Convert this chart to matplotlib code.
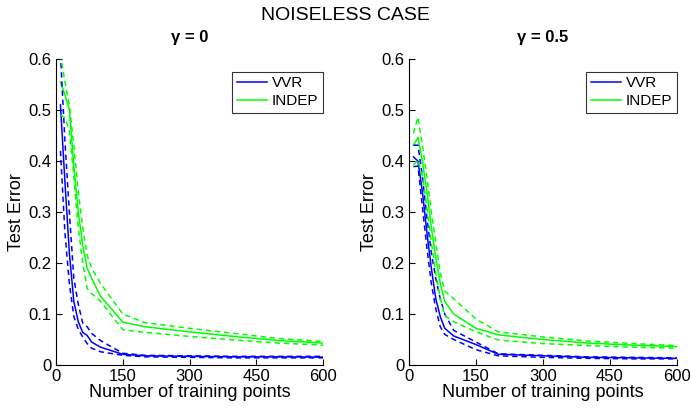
import matplotlib
matplotlib.use("Agg")
import matplotlib.pyplot as plt

plt.rcParams['font.family'] = ['Liberation Sans', 'DejaVu Sans']

x_points = [10, 20, 30, 40, 50, 60, 70, 80, 100, 150, 200, 300, 400, 500, 600]

# gamma = 0
vvr0_mean = [0.51, 0.36, 0.22, 0.125, 0.085, 0.064, 0.058, 0.045, 0.035, 0.021, 0.018, 0.017, 0.016, 0.016, 0.0155]
vvr0_up = [0.61, 0.44, 0.30, 0.17, 0.12, 0.082, 0.075, 0.062, 0.048, 0.023, 0.019, 0.018, 0.017, 0.017, 0.017]
vvr0_lo = [0.42, 0.26, 0.16, 0.095, 0.07, 0.055, 0.042, 0.033, 0.026, 0.019, 0.016, 0.015, 0.014, 0.014, 0.014]
ind0_mean = [0.555, 0.53, 0.50, 0.39, 0.30, 0.235, 0.19, 0.17, 0.135, 0.084, 0.075, 0.065, 0.056, 0.048, 0.043]
ind0_up = [0.61, 0.555, 0.51, 0.43, 0.34, 0.27, 0.215, 0.19, 0.16, 0.10, 0.083, 0.072, 0.062, 0.052, 0.046]
ind0_lo = [0.49, 0.485, 0.46, 0.37, 0.27, 0.20, 0.15, 0.14, 0.125, 0.069, 0.064, 0.056, 0.049, 0.043, 0.039]

# gamma = 0.5
vvr5_mean = [0.408, 0.40, 0.34, 0.26, 0.19, 0.13, 0.095, 0.072, 0.057, 0.04, 0.021, 0.018, 0.015, 0.014, 0.013]
vvr5_up = [0.431, 0.431, 0.37, 0.29, 0.22, 0.17, 0.13, 0.10, 0.068, 0.045, 0.022, 0.019, 0.016, 0.015, 0.014]
vvr5_lo = [0.389, 0.39, 0.31, 0.23, 0.16, 0.11, 0.075, 0.06, 0.05, 0.03, 0.018, 0.015, 0.013, 0.012, 0.012]
ind5_mean = [0.431, 0.446, 0.40, 0.34, 0.27, 0.21, 0.16, 0.125, 0.10, 0.072, 0.059, 0.05, 0.043, 0.039, 0.036]
ind5_up = [0.454, 0.486, 0.43, 0.37, 0.30, 0.24, 0.18, 0.145, 0.13, 0.09, 0.065, 0.055, 0.047, 0.042, 0.038]
ind5_lo = [0.392, 0.402, 0.37, 0.31, 0.24, 0.18, 0.13, 0.097, 0.085, 0.065, 0.049, 0.042, 0.038, 0.035, 0.033]

x_ticks = [0, 150, 300, 450, 600]
y_ticks = [0, 0.1, 0.2, 0.3, 0.4, 0.5, 0.6]
y_tick_labels = ['0', '0.1', '0.2', '0.3', '0.4', '0.5', '0.6']

BLUE = '#0000ff'
GREEN = '#00ff00'

fig = plt.figure(figsize=(6.91, 4.11), dpi=100)
ax1 = fig.add_axes([56 / 691, 46 / 411, 267 / 691, 306 / 411])
ax2 = fig.add_axes([409 / 691, 46 / 411, 268 / 691, 306 / 411])

panels = [
    (ax1, 'γ = 0', vvr0_mean, vvr0_up, vvr0_lo, ind0_mean, ind0_up, ind0_lo),
    (ax2, 'γ = 0.5', vvr5_mean, vvr5_up, vvr5_lo, ind5_mean, ind5_up, ind5_lo),
]

LW = 1.1
DASH = (0, (3.5, 2.5))

for ax, title, vm, vu, vl, im, iu, il in panels:
    ax.plot(x_points, vm, color=BLUE, lw=LW, label='VVR')
    ax.plot(x_points, im, color=GREEN, lw=LW, label='INDEP')
    ax.plot(x_points, vu, color=BLUE, lw=LW, ls=DASH)
    ax.plot(x_points, vl, color=BLUE, lw=LW, ls=DASH)
    ax.plot(x_points, iu, color=GREEN, lw=LW, ls=DASH)
    ax.plot(x_points, il, color=GREEN, lw=LW, ls=DASH)
    ax.set_xlim(0, 600)
    ax.set_ylim(0, 0.6)
    ax.set_xticks(x_ticks)
    ax.set_yticks(y_ticks)
    ax.set_yticklabels(y_tick_labels)
    ax.spines['top'].set_visible(False)
    ax.spines['right'].set_visible(False)
    ax.spines['left'].set_linewidth(0.8)
    ax.spines['bottom'].set_linewidth(0.8)
    ax.tick_params(direction='in', length=4, width=0.8, labelsize=12, pad=3)
    ax.set_xlabel('Number of training points', fontsize=13, labelpad=0)
    ax.set_ylabel('Test Error', fontsize=13, labelpad=3)
    ax.set_title(title, fontsize=12, fontweight='bold', pad=12)
    leg = ax.legend(loc='upper right', bbox_to_anchor=(1.0, 0.958), fontsize=11,
                    frameon=True, fancybox=False, handlelength=2.0,
                    borderpad=0.3, labelspacing=0.25, handletextpad=0.3,
                    borderaxespad=0.0)
    leg.get_frame().set_edgecolor('black')
    leg.get_frame().set_linewidth(0.8)

fig.text(0.5, 0.962, 'NOISELESS CASE', ha='center', va='center', fontsize=14)

fig.savefig('out.png', dpi=100)
